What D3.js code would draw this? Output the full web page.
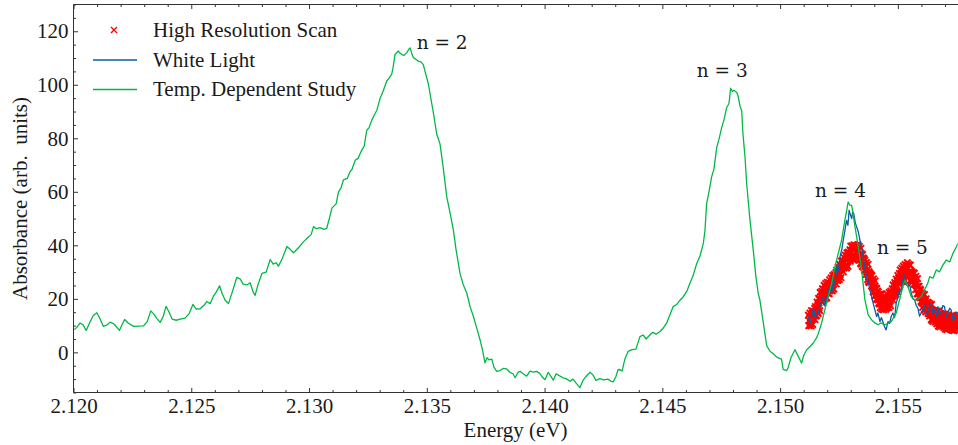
<!DOCTYPE html>
<html><head><meta charset="utf-8">
<script src="https://cdn.jsdelivr.net/npm/d3@7"></script>
<style>body{margin:0;background:#fff} svg{display:block;background:#fff}</style>
</head><body><svg id="chart" width="958" height="445"></svg>
<script>
// ---------- DATA ----------
const xMajorTicks = [2.120, 2.125, 2.130, 2.135, 2.140, 2.145, 2.150, 2.155];
const yMajorTicks = [0, 20, 40, 60, 80, 100, 120];
const seriesNames = ["High Resolution Scan", "White Light", "Temp. Dependent Study"];
const peakLabels = ["n = 2", "n = 3", "n = 4", "n = 5"];
const peakLabelE = [2.13457, 2.14646, 2.15148, 2.15411];
const peakLabelA = [113.5, 102.9, 58.1, 36.6];

// Temp. Dependent Study (green)
const tempEnergy = [2.12003,2.12016,2.12028,2.12041,2.12054,2.12071,2.12084,2.12099,2.12113,2.12127,2.12143,2.12156,2.12173,2.12195,2.12207,2.12217,2.12232,2.12255,2.12275,2.12297,2.12313,2.12328,2.12342,2.12355,2.12368,2.12381,2.12393,2.12406,2.12419,2.12436,2.12453,2.12474,2.12491,2.12507,2.12521,2.12538,2.12553,2.12566,2.12580,2.12594,2.12606,2.12620,2.12631,2.12644,2.12658,2.12674,2.12693,2.12707,2.12720,2.12736,2.12750,2.12763,2.12771,2.12784,2.12800,2.12818,2.12835,2.12848,2.12860,2.12870,2.12886,2.12906,2.12920,2.12934,2.12954,2.12976,2.12996,2.13009,2.13019,2.13030,2.13047,2.13064,2.13075,2.13089,2.13097,2.13115,2.13125,2.13136,2.13146,2.13162,2.13174,2.13183,2.13196,2.13208,2.13224,2.13234,2.13245,2.13255,2.13266,2.13276,2.13288,2.13302,2.13314,2.13330,2.13340,2.13351,2.13357,2.13365,2.13379,2.13387,2.13394,2.13404,2.13415,2.13423,2.13429,2.13435,2.13443,2.13454,2.13464,2.13476,2.13485,2.13497,2.13507,2.13518,2.13528,2.13542,2.13556,2.13569,2.13585,2.13599,2.13613,2.13624,2.13641,2.13654,2.13670,2.13684,2.13698,2.13709,2.13726,2.13735,2.13747,2.13756,2.13764,2.13776,2.13785,2.13797,2.13811,2.13824,2.13839,2.13853,2.13866,2.13875,2.13887,2.13896,2.13909,2.13924,2.13938,2.13951,2.13967,2.13981,2.13993,2.14002,2.14015,2.14027,2.14037,2.14049,2.14066,2.14078,2.14091,2.14108,2.14121,2.14134,2.14150,2.14163,2.14176,2.14193,2.14206,2.14218,2.14235,2.14252,2.14269,2.14282,2.14292,2.14303,2.14312,2.14320,2.14329,2.14341,2.14355,2.14371,2.14388,2.14405,2.14418,2.14431,2.14448,2.14460,2.14473,2.14490,2.14503,2.14518,2.14532,2.14546,2.14562,2.14575,2.14589,2.14605,2.14617,2.14630,2.14646,2.14660,2.14674,2.14681,2.14688,2.14698,2.14709,2.14719,2.14731,2.14740,2.14752,2.14762,2.14773,2.14783,2.14790,2.14798,2.14804,2.14816,2.14821,2.14830,2.14837,2.14842,2.14851,2.14858,2.14872,2.14886,2.14897,2.14907,2.14914,2.14928,2.14943,2.14957,2.14971,2.14982,2.14992,2.15006,2.15013,2.15028,2.15034,2.15046,2.15063,2.15077,2.15091,2.15101,2.15113,2.15127,2.15141,2.15155,2.15162,2.15176,2.15197,2.15219,2.15233,2.15247,2.15261,2.15275,2.15289,2.15296,2.15304,2.15318,2.15332,2.15346,2.15360,2.15374,2.15388,2.15402,2.15416,2.15428,2.15444,2.15458,2.15472,2.15493,2.15514,2.15529,2.15543,2.15557,2.15571,2.15585,2.15599,2.15613,2.15627,2.15635,2.15649,2.15663,2.15677,2.15691,2.15705,2.15720,2.15734,2.15748,2.15755,2.15772];
const tempAbs = [8.5,9.5,11.0,10.2,8.2,11.5,13.8,14.8,12.5,9.7,10.3,11.3,10.5,8.2,10.5,12.3,11.0,9.7,9.8,9.9,11.5,15.5,14.2,12.5,11.2,13.5,17.2,15.0,12.4,12.0,12.4,12.8,14.5,17.9,16.2,16.3,17.5,19.0,18.2,21.0,22.5,24.9,22.0,19.5,18.2,22.5,28.0,27.5,25.5,25.2,26.0,22.5,21.3,25.5,29.5,30.0,34.7,33.0,33.5,32.2,35.0,39.6,38.5,37.2,39.0,41.3,43.0,44.0,47.0,46.2,46.6,46.0,46.3,51.0,53.9,55.5,60.0,61.5,64.5,65.0,67.5,68.5,71.8,72.5,75.6,77.0,83.0,84.0,86.7,88.5,90.5,95.0,97.5,101.4,102.5,104.0,106.5,111.3,112.6,111.8,111.3,111.0,112.0,113.2,113.8,112.0,110.1,109.5,108.8,108.5,107.5,103.5,100.2,94.5,89.5,81.6,77.9,69.5,58.0,52.0,45.6,38.5,29.5,25.5,22.1,17.0,13.4,10.0,4.7,1.5,-3.9,-2.0,-2.8,-2.5,-5.5,-7.1,-6.8,-6.0,-6.2,-7.5,-8.0,-9.5,-7.5,-7.1,-8.0,-8.9,-7.0,-7.4,-7.1,-8.0,-9.5,-10.2,-7.5,-9.0,-10.4,-8.0,-8.9,-9.5,-9.8,-10.8,-10.0,-11.5,-13.2,-10.5,-9.0,-7.4,-8.5,-10.5,-9.8,-10.3,-10.0,-10.8,-11.0,-9.0,-6.5,-6.4,-7.0,-2.5,0.4,1.0,1.2,5.9,6.5,5.0,6.6,7.5,6.8,7.8,9.0,10.9,14.0,17.1,18.0,19.5,20.8,23.0,25.8,28.5,33.2,36.0,40.7,45.5,55.6,60.0,65.5,68.5,76.6,79.5,84.0,87.0,91.5,93.0,98.7,97.5,98.0,97.1,96.0,92.0,90.3,82.0,73.0,63.0,49.5,38.2,28.5,22.1,19.6,11.5,2.5,0.4,-0.5,-1.5,-2.1,-2.5,-6.4,-6.8,-5.8,-2.0,1.0,-1.5,-4.0,-1.0,1.0,2.2,3.5,5.5,7.0,10.9,18.4,25.8,32.0,37.0,41.9,49.3,56.2,55.0,54.9,46.9,39.4,30.8,19.6,14.0,12.2,11.0,10.3,11.0,10.3,10.8,11.5,14.7,22.1,27.0,24.5,20.8,19.6,20.0,20.8,23.3,25.8,28.3,27.7,30.8,30.1,32.6,34.5,33.8,37.0,39.4,40.7,42.0];

// White Light (blue)
const whiteEnergy = [2.15119,2.15129,2.15141,2.15150,2.15162,2.15173,2.15183,2.15190,2.15197,2.15205,2.15212,2.15219,2.15225,2.15233,2.15240,2.15248,2.15254,2.15262,2.15268,2.15275,2.15282,2.15288,2.15293,2.15298,2.15304,2.15308,2.15313,2.15319,2.15325,2.15332,2.15339,2.15346,2.15353,2.15360,2.15367,2.15374,2.15381,2.15388,2.15395,2.15402,2.15410,2.15415,2.15424,2.15430,2.15436,2.15444,2.15450,2.15458,2.15465,2.15472,2.15479,2.15486,2.15493,2.15500,2.15507,2.15514,2.15521,2.15529,2.15535,2.15543,2.15550,2.15557,2.15564,2.15571,2.15578,2.15585,2.15592,2.15599,2.15606,2.15613,2.15620,2.15627,2.15635,2.15642,2.15649,2.15656,2.15663,2.15670,2.15677,2.15684,2.15691,2.15698,2.15705,2.15712,2.15720,2.15726,2.15734,2.15741,2.15748,2.15755,2.15763];
const whiteAbs = [13.4,11.0,16.5,13.0,14.7,18.5,20.8,17.5,19.6,23.0,24.5,22.0,27.0,25.5,32.0,30.5,35.7,38.5,41.9,45.5,49.3,47.5,53.1,51.5,50.0,52.5,51.8,48.5,46.9,45.0,41.9,39.5,35.7,31.5,28.3,26.5,23.3,21.0,18.4,16.0,13.4,14.7,11.5,13.0,11.5,9.5,8.4,11.5,10.9,13.5,14.7,13.0,18.4,20.5,23.3,22.5,27.0,28.9,25.5,24.5,25.5,22.1,20.0,19.6,17.5,16.5,13.5,14.7,16.0,17.7,14.0,15.2,17.5,18.4,14.5,15.9,13.5,17.1,14.0,15.2,17.5,17.1,13.0,14.7,16.5,15.9,12.0,12.8,15.0,14.7,12.0];

// High Resolution Scan (red crosses): three repeated sweeps on a uniform energy grid
const hrStart = 2.1512, hrStep = 0.00005;
const hrSweepShift = [0, 0.000017, 0.000033];
const hrAbs1 = [13.9,10.1,13.5,10.7,15.4,13.8, 17.1,13.7,17.8,16.6,22.4,19.9, 23.8,19.8,23.7,22.1,26.2,22.0, 27.1,23.7,26.1,23.8,29.1,27.0, 30.7,26.9,31.1,29.0,34.1,31.8, 35.5,32.0,34.7,32.4,37.5,35.2, 39.7,35.0,38.3,35.9,40.0,37.1, 40.3,34.5,36.6,33.0,36.6,31.7, 34.4,29.1,30.9,26.4,29.7,26.5, 28.6,22.6,24.5,21.3,23.9,19.6, 21.6,16.7,20.2,16.9,21.0,17.7, 20.4,16.7,20.0,17.8,22.9,20.6, 25.2,21.7,25.3,23.1,28.7,26.6, 30.8,26.3,30.3,28.1,32.8,30.2, 33.5,28.3,30.3,26.7,30.1,26.6, 29.6,23.4,25.6,21.9,24.7,20.5, 22.2,16.8,19.1,15.9,20.0,15.5, 18.5,13.6,16.1,11.9,15.7,12.7, 15.4,10.6,13.3,10.6,14.7,11.0, 14.4,9.3,12.0,9.4,13.5,10.5, 13.3,8.5,11.9,9.3,13.6,9.9, 13.5,8.9,11.6,8.6,13.0,10.2, 13.1,9.0,11.8];
const hrAbs2 = [10.0,14.7,9.9,14.5,13.5,16.4, 13.5,18.8,14.5,19.7,19.4,22.8, 20.5,25.0,20.0,24.5,23.4,26.1, 23.0,27.8,23.0,27.7,26.9,29.8, 27.0,31.9,27.2,32.0,31.2,34.3, 31.5,36.3,31.5,36.2,35.4,38.3, 35.5,39.8,34.5,38.7,37.4,39.8, 36.5,39.6,33.2,36.2,33.7,35.0, 30.5,33.6,27.2,30.2,27.7,29.0, 24.5,27.5,21.0,24.0,21.4,22.6, 18.0,21.9,16.2,20.0,18.2,20.3, 16.5,21.4,16.7,21.5,20.7,23.8, 21.0,26.1,21.7,26.7,26.2,29.5, 27.0,31.5,26.5,31.0,29.9,32.6, 29.5,32.9,26.9,30.2,28.0,29.7, 25.5,28.4,21.9,24.7,22.0,23.2, 18.5,21.9,15.9,19.2,17.0,18.7, 14.5,18.1,12.2,15.7,13.7,15.5, 11.5,15.4,9.8,13.6,11.9,14.0, 10.3,14.3,8.7,12.6,11.0,13.1, 9.5,13.6,8.2,12.2,10.7,13.0, 9.7,13.4,8.4,12.0,10.9,12.8, 9.5,13.6,8.3];
const hrAbs3 = [11.9,11.1,15.6,10.4,15.1,12.2, 15.4,15.2,20.2,15.6,21.0,18.6, 22.4,21.4,25.7,20.4,25.0,21.9, 24.9,24.2,28.7,23.6,28.5,25.6, 28.9,28.3,32.9,27.9,32.8,30.1, 33.4,32.7,37.2,32.1,37.0,34.1, 37.4,36.2,40.2,34.6,39.0,35.6, 38.4,36.0,38.9,32.1,35.3,30.8, 32.4,30.0,32.9,26.1,29.3,24.8, 26.4,23.9,26.7,19.9,23.0,18.4, 19.9,18.3,21.9,15.9,19.8,16.1, 18.4,17.8,22.4,17.4,22.3,19.6, 22.9,22.5,27.4,22.6,27.8,25.3, 28.9,27.9,32.2,26.9,31.5,28.4, 31.4,29.3,32.6,26.1,29.6,25.5, 27.4,24.8,27.6,20.6,23.6,19.0, 20.4,18.3,21.6,15.1,18.6,14.5, 16.4,14.5,17.9,11.6,15.3,11.3, 13.4,11.8,15.5,9.5,13.5,9.8, 12.2,10.7,14.4,8.5,12.6,8.9, 11.4,10.0,13.9,8.1,12.3,8.8, 11.2,10.2,13.7,8.3,12.1,9.0, 11.4,10.0,13.9];
const hrSweeps = [hrAbs1, hrAbs2, hrAbs3];

// ---------- DRAW ----------
const COL_RED = "#ff0000", COL_BLUE = "#0C5DA5", COL_GREEN = "#00B945";
const FONT = "'Liberation Serif', 'Times New Roman', serif";
const TXT = "#1a1a1a";

const svg = d3.select("#chart");
const L = 73.5, R = 957.7, T = 4.5, B = 392.5;
const x = d3.scaleLinear().domain([2.120, 2.15754]).range([L, R]);
const y = d3.scaleLinear().domain([-15, 130]).range([B, T]);

svg.append("defs").append("clipPath").attr("id", "clip")
  .append("rect").attr("x", L).attr("y", T).attr("width", R - L).attr("height", B - T);

const plot = svg.append("g").attr("clip-path", "url(#clip)");

const hrData = [];
hrSweeps.forEach((sw, s) => sw.forEach((v, i) => hrData.push([hrStart + hrSweepShift[s] + i * hrStep, v])));
const crossPath = "M-3,-3L3,3M-3,3L3,-3";
plot.append("g").selectAll("path").data(hrData).join("path")
  .attr("d", "M-3.2,-3.2L3.2,3.2M-3.2,3.2L3.2,-3.2")
  .attr("transform", d => `translate(${x(d[0])},${y(d[1])})`)
  .attr("stroke", COL_RED).attr("stroke-width", 1.9).attr("fill", "none");

const line = d3.line().x(d => x(d[0])).y(d => y(d[1]));
plot.append("path").datum(whiteEnergy.map((e, i) => [e, whiteAbs[i]]))
  .attr("d", line).attr("fill", "none").attr("stroke", COL_BLUE).attr("stroke-width", 1.3)
  .attr("stroke-linejoin", "round");
plot.append("path").datum(tempEnergy.map((e, i) => [e, tempAbs[i]]))
  .attr("d", line).attr("fill", "none").attr("stroke", COL_GREEN).attr("stroke-width", 1.3)
  .attr("stroke-linejoin", "round");

// axes
const xMinor = d3.range(2.120, 2.1576, 0.001).filter(v => !xMajorTicks.some(m => Math.abs(m - v) < 1e-7));
const yMinor = d3.range(-15, 131, 5).filter(v => !yMajorTicks.includes(v));

function styleAxis(g) {
  g.select(".domain").remove();
  g.selectAll(".tick line").attr("stroke", "#333").attr("stroke-width", 1);
  g.selectAll(".tick text").attr("font-family", FONT).attr("font-size", 21).attr("fill", TXT);
}
svg.append("g").attr("transform", `translate(0,${B})`)
  .call(d3.axisBottom(x).tickValues(xMajorTicks).tickFormat(d3.format(".3f")).tickSize(-4.5).tickPadding(5.5))
  .call(styleAxis);
svg.append("g").attr("transform", `translate(0,${B})`)
  .call(d3.axisBottom(x).tickValues(xMinor).tickFormat("").tickSize(-2.5)).call(styleAxis);
svg.append("g").attr("transform", `translate(0,${T})`)
  .call(d3.axisTop(x).tickValues(xMajorTicks).tickFormat("").tickSize(-4.5)).call(styleAxis);
svg.append("g").attr("transform", `translate(0,${T})`)
  .call(d3.axisTop(x).tickValues(xMinor).tickFormat("").tickSize(-2.5)).call(styleAxis);
svg.append("g").attr("transform", `translate(${L},0)`)
  .call(d3.axisLeft(y).tickValues(yMajorTicks).tickFormat(d3.format("d")).tickSize(-4.5).tickPadding(5))
  .call(styleAxis);
svg.append("g").attr("transform", `translate(${L},0)`)
  .call(d3.axisLeft(y).tickValues(yMinor).tickFormat("").tickSize(-2.5)).call(styleAxis);

// spines
const sp = svg.append("g").attr("stroke", "#333").attr("stroke-width", 1);
sp.append("line").attr("x1", L).attr("x2", L).attr("y1", T).attr("y2", B);
sp.append("line").attr("x1", L).attr("x2", R + 2).attr("y1", B).attr("y2", B);
sp.append("line").attr("x1", L).attr("x2", R + 2).attr("y1", T).attr("y2", T);

// axis labels
svg.append("text").attr("x", (L + R) / 2).attr("y", 437).attr("text-anchor", "middle")
  .attr("font-family", FONT).attr("font-size", 21).attr("fill", TXT).text("Energy (eV)");
svg.append("text").attr("transform", `translate(27,${(T + B) / 2}) rotate(-90)`)
  .attr("text-anchor", "middle").attr("font-family", FONT).attr("font-size", 21).attr("fill", TXT)
  .style("white-space", "pre").text("Absorbance (arb.  units)");

// peak labels
svg.append("g").selectAll("text").data(peakLabels).join("text")
  .attr("x", (d, i) => x(peakLabelE[i])).attr("y", (d, i) => y(peakLabelA[i]))
  .attr("font-family", "'DejaVu Serif', serif").attr("font-size", 18.5).attr("fill", TXT)
  .text(d => d);

// legend
const lg = svg.append("g");
const rowsY = [30, 60, 89.5];
lg.append("path").attr("d", crossPath).attr("transform", `translate(114,${rowsY[0]})`)
  .attr("stroke", COL_RED).attr("stroke-width", 1.4).attr("fill", "none");
lg.append("line").attr("x1", 93).attr("x2", 137).attr("y1", rowsY[1]).attr("y2", rowsY[1])
  .attr("stroke", COL_BLUE).attr("stroke-width", 1.4);
lg.append("line").attr("x1", 93).attr("x2", 137).attr("y1", rowsY[2]).attr("y2", rowsY[2])
  .attr("stroke", COL_GREEN).attr("stroke-width", 1.4);
lg.selectAll("text").data(seriesNames).join("text")
  .attr("x", 153).attr("y", (d, i) => rowsY[i] + 6.5)
  .attr("font-family", FONT).attr("font-size", 21).attr("fill", TXT).text(d => d);
</script></body></html>
